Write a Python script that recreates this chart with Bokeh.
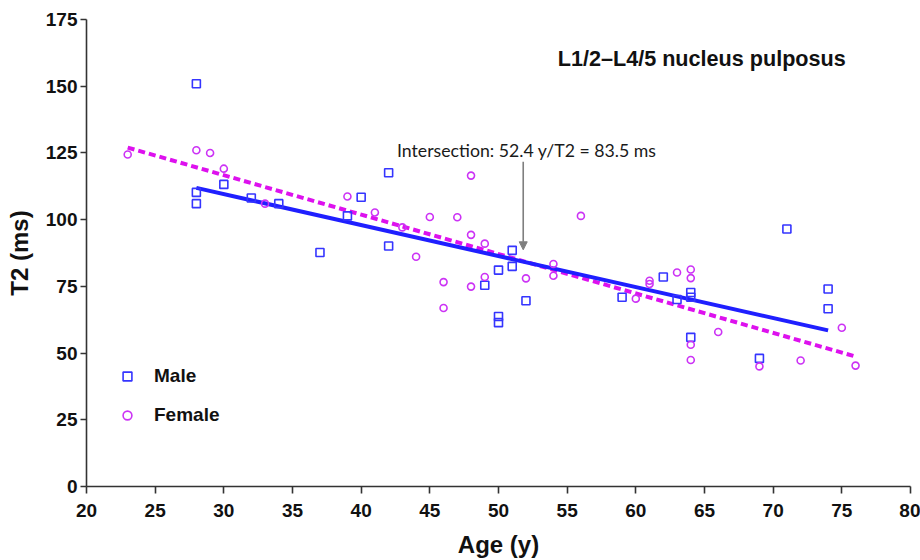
from bokeh.plotting import figure
from bokeh.models import Range1d, Legend, Label, Arrow, NormalHead, FixedTicker
from bokeh.embed import file_html
from bokeh.resources import INLINE

# ---- data ----
male_age = [28, 28, 28, 30, 32, 34, 37, 39, 40, 42, 42, 49, 50, 50, 50, 51, 51, 52,
            59, 62, 63, 64, 64, 64, 69, 71, 74, 74]
male_t2 = [150.9, 110.2, 106.0, 113.2, 108.1, 106.0, 87.7, 101.4, 108.4, 117.6, 90.1,
           75.4, 81.1, 63.7, 61.4, 88.5, 82.5, 69.6, 70.9, 78.5, 70.1, 72.7, 70.9,
           55.9, 48.0, 96.5, 74.0, 66.6]

female_age = [23, 28, 29, 30, 33, 39, 41, 43, 44, 45, 46, 46, 47, 48, 48, 48, 49, 49,
              52, 54, 54, 56, 60, 61, 61, 63, 64, 64, 64, 64, 66, 69, 72, 75, 76]
female_t2 = [124.4, 126.0, 125.0, 119.1, 106.0, 108.7, 102.7, 97.1, 86.1, 101.0, 76.6,
             66.9, 100.9, 116.5, 94.3, 74.9, 91.0, 78.5, 78.0, 83.4, 79.0, 101.4, 70.4,
             77.1, 75.9, 80.2, 81.3, 78.1, 53.1, 47.4, 57.9, 45.0, 47.2, 59.5, 45.3]

male_fit_age = [28, 74]
male_fit_t2 = [111.9, 58.5]
female_fit_age = [23, 76]
female_fit_t2 = [127.0, 48.7]

x_ticks = [20, 25, 30, 35, 40, 45, 50, 55, 60, 65, 70, 75, 80]
y_ticks = [0, 25, 50, 75, 100, 125, 150, 175]

intersect_text = "Intersection: 52.4 y/T2 = 83.5 ms"
intersect_pos = (52.05, 126.0)
arrow_x = 51.8
arrow_y = (121.7, 88.7)
title_text = "L1/2\u2013L4/5 nucleus pulposus"
title_pos = (64.8, 160.4)

FONT = "Liberation Sans"
BLUE = "#3535ff"
LBLUE = "#1f1fff"
MAG = "#cc33f5"
LMAG = "#dd11ee"
AX = "#333333"

p = figure(width=920, height=560, output_backend="svg", toolbar_location=None,
           x_range=Range1d(20, 80), y_range=Range1d(0, 175),
           min_border_left=86, min_border_right=10, min_border_top=19,
           min_border_bottom=73)
p.outline_line_color = None
p.grid.visible = False
p.background_fill_color = "white"

for ax in (p.xaxis[0], p.yaxis[0]):
    ax.axis_line_color = AX
    ax.axis_line_width = 1.6
    ax.major_tick_line_color = AX
    ax.major_tick_line_width = 1.6
    ax.major_tick_in = 0
    ax.minor_tick_line_color = None
    ax.major_label_text_font = FONT
    ax.major_label_text_font_style = "bold"
    ax.major_label_text_font_size = "19px"
    ax.major_label_text_color = "#111111"
    ax.axis_label_text_font = FONT
    ax.axis_label_text_font_style = "bold"
    ax.axis_label_text_font_size = "24px"
    ax.axis_label_text_color = "#111111"

p.xaxis.ticker = FixedTicker(ticks=x_ticks)
p.yaxis.ticker = FixedTicker(ticks=y_ticks)
p.xaxis.major_tick_out = 7
p.yaxis.major_tick_out = 6
p.xaxis.major_label_standoff = 10
p.yaxis.major_label_standoff = 3
p.xaxis.axis_label = "Age (y)"
p.yaxis.axis_label = "T2 (ms)"
p.xaxis.axis_label_standoff = 11
p.yaxis.axis_label_standoff = 10

# regression lines
p.line(female_fit_age, female_fit_t2, line_color=LMAG, line_width=4,
       line_dash="7 4")
p.line(male_fit_age, male_fit_t2, line_color=LBLUE, line_width=4)

# points
r_m = p.scatter(male_age, male_t2, marker="square", size=8, fill_color=None,
                line_color=BLUE, line_width=1.6)
r_f = p.scatter(female_age, female_t2, marker="circle", size=7, fill_color=None,
                line_color=MAG, line_width=1.6)

legend = Legend(items=[("Male", [r_m]), ("Female", [r_f])], location=(30, 60),
                glyph_width=22, glyph_height=22, label_height=22, spacing=17,
                label_standoff=16, padding=10, margin=0,
                border_line_color=None, background_fill_alpha=0,
                label_text_font=FONT, label_text_font_style="bold",
                label_text_font_size="19px", label_text_color="#111111")
p.add_layout(legend)

p.add_layout(Arrow(x_start=arrow_x, y_start=arrow_y[0], x_end=arrow_x, y_end=arrow_y[1],
                   line_color="#7f7f7f", line_width=1.6,
                   end=NormalHead(size=8, fill_color="#7f7f7f", line_color="#7f7f7f")))

p.add_layout(Label(x=intersect_pos[0], y=intersect_pos[1], text=intersect_text,
                   text_align="center", text_baseline="alphabetic",
                   text_font="Lato", text_font_size="17.7px", text_color="#1a1a1a"))
p.add_layout(Label(x=title_pos[0], y=title_pos[1], text=title_text,
                   text_align="center", text_baseline="alphabetic",
                   text_font=FONT, text_font_style="bold", text_font_size="21.6px",
                   text_color="#111111"))

open("out.html", "w").write(file_html(p, INLINE))
